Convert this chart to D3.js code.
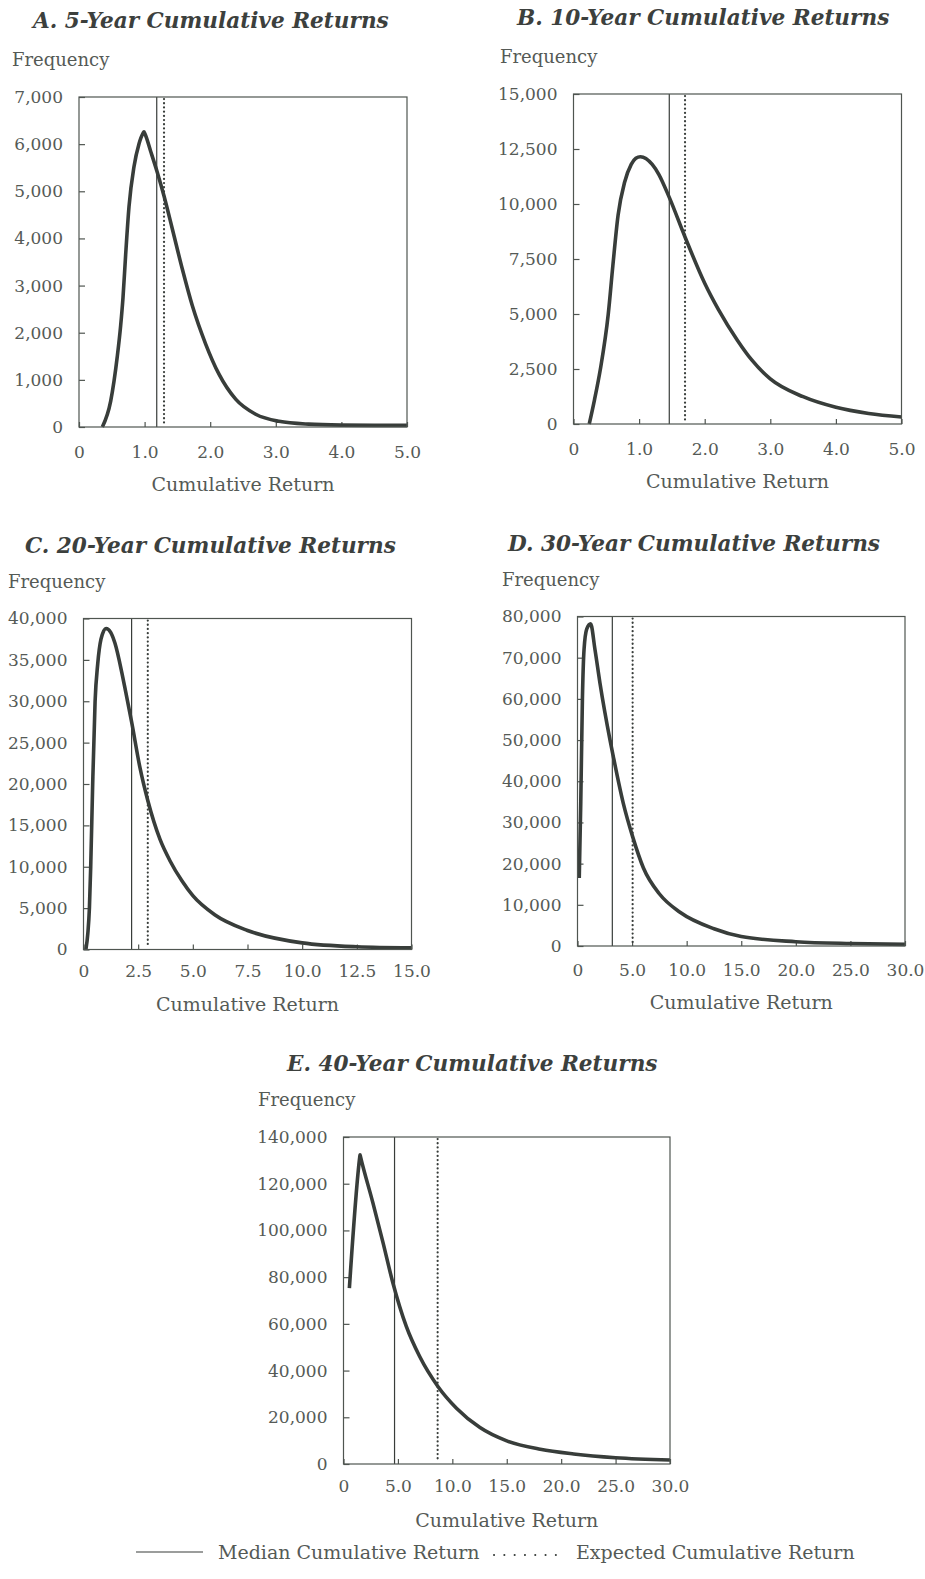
<!DOCTYPE html>
<html>
<head>
<meta charset="utf-8">
<script src="https://cdn.jsdelivr.net/npm/d3@7"></script>
<style>
  body { margin: 0; background: #fff; }
  text { font-family: "DejaVu Serif", serif; }
</style>
</head>
<body>
<div id="chart"></div>
<script>
var svgWidth = 925;
var svgHeight = 1579;

// DATA
var panelTitles = [
  "A. 5-Year Cumulative Returns",
  "B. 10-Year Cumulative Returns",
  "C. 20-Year Cumulative Returns",
  "D. 30-Year Cumulative Returns",
  "E. 40-Year Cumulative Returns"
];

var returnsA = [0.356, 0.483, 0.584, 0.635, 0.671, 0.711, 0.762, 0.838, 0.915, 0.975, 0.99, 1.005, 1.092, 1.194, 1.296, 1.423, 1.575, 1.728, 1.931, 2.134, 2.388, 2.693, 3.049, 3.5, 4.0, 4.5, 5.0];
var freqA    = [0, 550, 1500, 2150, 2750, 3650, 4670, 5520, 6010, 6230, 6260, 6220, 5850, 5400, 4900, 4200, 3350, 2570, 1760, 1120, 590, 270, 120, 60, 40, 35, 35];

var returnsB = [0.24, 0.32, 0.41, 0.53, 0.60, 0.68, 0.78, 0.88, 0.95, 1.02, 1.2, 1.3, 1.46, 1.70, 2.0, 2.21, 2.5, 2.72, 3.0, 3.5, 4.0, 4.5, 5.0];
var freqB    = [0, 1100, 2500, 5000, 7200, 9500, 11000, 11800, 12080, 12150, 11800, 11350, 10300, 8500, 6400, 5200, 3800, 2900, 2050, 1240, 760, 480, 320];

var returnsC = [0.11, 0.20, 0.27, 0.33, 0.42, 0.53, 0.65, 0.80, 1.03, 1.25, 1.44, 1.75, 1.94, 2.2, 2.58, 2.94, 3.5, 3.96, 4.5, 5.0, 6.0, 7.5, 10.0, 12.5, 15.0];
var freqC    = [0, 2000, 5000, 10000, 20000, 30000, 34500, 37500, 38800, 38300, 37000, 33500, 31000, 27500, 22000, 18000, 13300, 10700, 8300, 6500, 4200, 2300, 800, 330, 200];

var returnsD = [0.16, 0.30, 0.45, 0.60, 0.85, 1.2, 1.6, 2.06, 2.98, 3.28, 4.19, 5.05, 6.03, 7.55, 9.39, 12.5, 15.0, 20.0, 25.0, 30.0];
var freqD    = [16500, 35000, 60000, 72000, 77000, 78200, 72000, 63800, 50000, 46000, 34700, 26550, 19000, 12500, 8200, 4200, 2300, 1050, 600, 400];

var returnsE = [0.54, 1.49, 1.52, 1.55, 2.69, 3.62, 4.54, 5.77, 7.0, 8.69, 10.38, 12.54, 15.0, 18.08, 21.15, 25.0, 30.0];
var freqE    = [75300, 131300, 132400, 131800, 112000, 95000, 77500, 58900, 46000, 33100, 23900, 15600, 9900, 6300, 4300, 2700, 1700];

var medianReturns   = [1.185, 1.46, 2.2, 3.19, 4.69];
var expectedReturns = [1.296, 1.70, 2.94, 5.05, 8.65];

var xMax = [5, 5, 15, 30, 30];
var yMax = [7000, 15000, 40000, 80000, 140000];

var xTicksAB = [0, 1, 2, 3, 4, 5];
var xTicksC = [0, 2.5, 5, 7.5, 10, 12.5, 15];
var xTicksDE = [0, 5, 10, 15, 20, 25, 30];
var yTicksA = [0, 1000, 2000, 3000, 4000, 5000, 6000, 7000];
var yTicksB = [0, 2500, 5000, 7500, 10000, 12500, 15000];
var yTicksC = [0, 5000, 10000, 15000, 20000, 25000, 30000, 35000, 40000];
var yTicksD = [0, 10000, 20000, 30000, 40000, 50000, 60000, 70000, 80000];
var yTicksE = [0, 20000, 40000, 60000, 80000, 100000, 120000, 140000];

var legendLabels = ["Median Cumulative Return", "Expected Cumulative Return"];

// LAYOUT
var panels = [
  { returns: returnsA, freq: freqA, xTicks: xTicksAB, yTicks: yTicksA,
    left: 79, right: 407, top: 97, bottom: 427,
    titleX: 33, titleY: 20, freqX: 12, freqY: 60, tickDy: 25, labelDy: 57 },
  { returns: returnsB, freq: freqB, xTicks: xTicksAB, yTicks: yTicksB,
    left: 573.5, right: 901.5, top: 94, bottom: 424,
    titleX: 517, titleY: 17, freqX: 500, freqY: 57, tickDy: 25, labelDy: 57 },
  { returns: returnsC, freq: freqC, xTicks: xTicksC, yTicks: yTicksC,
    left: 83.5, right: 411.5, top: 618.5, bottom: 949.5,
    titleX: 25, titleY: 545, freqX: 8, freqY: 582, tickDy: 22, labelDy: 55 },
  { returns: returnsD, freq: freqD, xTicks: xTicksDE, yTicks: yTicksD,
    left: 577.5, right: 905, top: 616.5, bottom: 946,
    titleX: 508, titleY: 543, freqX: 502, freqY: 580, tickDy: 24, labelDy: 56 },
  { returns: returnsE, freq: freqE, xTicks: xTicksDE, yTicks: yTicksE,
    left: 343.5, right: 670, top: 1137, bottom: 1464,
    titleX: 287, titleY: 1063, freqX: 258, freqY: 1100, tickDy: 22, labelDy: 56 }
];

var frameColor = "#4f5550";
var curveColor = "#383d3a";
var textColor = "#555a56";
var titleColor = "#3c403d";

var svg = d3.select("#chart")
  .append("svg")
  .attr("width", svgWidth)
  .attr("height", svgHeight);

svg.append("rect")
  .attr("width", svgWidth)
  .attr("height", svgHeight)
  .attr("fill", "#fff");

var xFormat = function(d) { return d === 0 ? "0" : d3.format(".1f")(d); };
var yFormat = d3.format(",");

panels.forEach(function(p, i) {
  var xScale = d3.scaleLinear().domain([0, xMax[i]]).range([p.left, p.right]);
  var yScale = d3.scaleLinear().domain([0, yMax[i]]).range([p.bottom, p.top]);

  var g = svg.append("g");

  // titles
  g.append("text")
    .attr("x", p.titleX)
    .attr("y", p.titleY)
    .attr("dy", "0.35em")
    .attr("font-size", 21.6)
    .attr("font-weight", "bold")
    .attr("font-style", "italic")
    .attr("fill", titleColor)
    .text(panelTitles[i]);

  g.append("text")
    .attr("x", p.freqX)
    .attr("y", p.freqY)
    .attr("dy", "0.35em")
    .attr("font-size", 18)
    .attr("fill", textColor)
    .text("Frequency");

  // Y AXIS
  var yAxis = g.append("g")
    .attr("transform", `translate(${p.left}, 0)`)
    .call(d3.axisLeft(yScale).tickValues(p.yTicks).tickFormat(yFormat)
      .tickSize(-6).tickPadding(16));
  yAxis.select(".domain").remove();
  yAxis.selectAll("line").attr("stroke", frameColor).attr("stroke-width", 1.2);
  yAxis.selectAll("text")
    .attr("font-family", "DejaVu Serif")
    .attr("font-size", 17)
    .attr("fill", textColor);

  // X AXIS
  var xAxis = g.append("g")
    .attr("transform", `translate(0, ${p.bottom})`)
    .call(d3.axisBottom(xScale).tickValues(p.xTicks).tickFormat(xFormat)
      .tickSize(-5));
  xAxis.select(".domain").remove();
  xAxis.selectAll("line").attr("stroke", frameColor).attr("stroke-width", 1.2);
  xAxis.selectAll("text")
    .attr("y", p.tickDy)
    .attr("dy", "0.35em")
    .attr("font-family", "DejaVu Serif")
    .attr("font-size", 17)
    .attr("fill", textColor);

  g.append("text")
    .attr("x", (p.left + p.right) / 2)
    .attr("y", p.bottom + p.labelDy)
    .attr("dy", "0.35em")
    .attr("text-anchor", "middle")
    .attr("font-size", 19)
    .attr("fill", textColor)
    .text("Cumulative Return");

  // median + expected lines
  g.append("line")
    .attr("x1", xScale(medianReturns[i])).attr("x2", xScale(medianReturns[i]))
    .attr("y1", p.top).attr("y2", p.bottom)
    .attr("stroke", curveColor)
    .attr("stroke-width", 1.2);

  g.append("line")
    .attr("x1", xScale(expectedReturns[i])).attr("x2", xScale(expectedReturns[i]))
    .attr("y1", p.top + 2).attr("y2", p.bottom - 3)
    .attr("stroke", curveColor)
    .attr("stroke-width", 2.2)
    .attr("stroke-linecap", "round")
    .attr("stroke-dasharray", "0.1,4.1");

  // curve
  var pts = p.returns.map(function(r, j) { return [r, p.freq[j]]; });
  var line = d3.line()
    .x(d => xScale(d[0]))
    .y(d => yScale(d[1]))
    .curve(d3.curveMonotoneX);

  g.append("path")
    .datum(pts)
    .attr("d", line)
    .attr("fill", "none")
    .attr("stroke", curveColor)
    .attr("stroke-width", 3.6)
    .attr("stroke-linejoin", "round");

  // frame
  g.append("rect")
    .attr("x", p.left)
    .attr("y", p.top)
    .attr("width", p.right - p.left)
    .attr("height", p.bottom - p.top)
    .attr("fill", "none")
    .attr("stroke", frameColor)
    .attr("stroke-width", 1.2);
});

// LEGEND
var legendY = 1552;
var legend = svg.append("g");

legend.append("line")
  .attr("x1", 136).attr("x2", 203)
  .attr("y1", legendY).attr("y2", legendY)
  .attr("stroke", curveColor)
  .attr("stroke-width", 1.2);

legend.append("text")
  .attr("x", 218)
  .attr("y", legendY)
  .attr("dy", "0.35em")
  .attr("font-size", 19)
  .attr("fill", textColor)
  .text(legendLabels[0]);

legend.append("line")
  .attr("x1", 494).attr("x2", 556)
  .attr("y1", legendY + 3).attr("y2", legendY + 3)
  .attr("stroke", curveColor)
  .attr("stroke-width", 2)
  .attr("stroke-linecap", "round")
  .attr("stroke-dasharray", "0.1,10.2");

legend.append("text")
  .attr("x", 576)
  .attr("y", legendY)
  .attr("dy", "0.35em")
  .attr("font-size", 19)
  .attr("fill", textColor)
  .text(legendLabels[1]);
</script>
</body>
</html>
